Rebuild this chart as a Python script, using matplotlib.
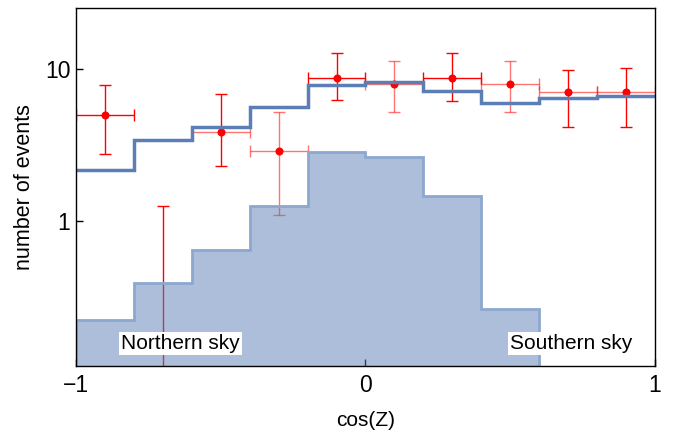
import numpy as np
import matplotlib
matplotlib.use("Agg")
import matplotlib.pyplot as plt
from matplotlib.ticker import FixedLocator, NullLocator, FixedFormatter

plt.rcParams["font.family"] = ["Liberation Sans", "DejaVu Sans"]

# bin edges in cos(Z)
bin_edges = [-1.0, -0.8, -0.6, -0.4, -0.2, 0.0, 0.2, 0.4, 0.6, 0.8, 1.0]

# expected total (step line)
total_expect = [2.17, 3.41, 4.13, 5.6, 7.9, 8.17, 7.17, 6.0, 6.41, 6.64]

# shaded component (only the first 8 bins are non-empty)
shaded_expect = [0.223, 0.393, 0.644, 1.26, 2.83, 2.62, 1.46, 0.265]

# observed points
obs_x = [-0.9, -0.5, -0.3, -0.1, 0.1, 0.3, 0.5, 0.7, 0.9]
obs_y = [4.98, 3.87, 2.9, 8.69, 7.97, 8.69, 7.97, 7.1, 7.1]
obs_lo = [2.75, 2.3, 1.09, 6.22, 5.21, 6.2, 5.21, 4.13, 4.13]
obs_hi = [7.85, 6.85, 5.2, 12.7, 11.2, 12.7, 11.3, 9.9, 10.1]

# empty bin: only an upper limit bar
empty_x = -0.7
empty_hi = 1.25

y_ticks = [1, 10]
y_tick_labels = ["1", "10"]
x_ticks = [-1, 0, 1]
x_tick_labels = ["\u22121", "0", "1"]

RED = "#ff0000"
BLUE = "#5b7fb5"

fig = plt.figure(figsize=(6.81, 4.34), dpi=100)
ax = fig.add_axes([0.1116, 0.1567, 0.8502, 0.8249])
ax.set_yscale("log")
ax.set_xlim(-1, 1)
ax.set_ylim(0.111, 25.2)

# error bars (some drawn lighter, like the reference)
v_alpha = [1.0, 1.0, 0.55, 1.0, 0.55, 1.0, 0.55, 1.0, 1.0]
h_alpha = [1.0, 0.55, 0.55, 1.0, 0.55, 1.0, 0.55, 0.55, 0.55]
for i, x in enumerate(obs_x):
    y = obs_y[i]
    ax.errorbar([x], [y], yerr=[[y - obs_lo[i]], [obs_hi[i] - y]], fmt="none",
                ecolor=RED, elinewidth=1.0, capsize=4.5, capthick=1.0,
                alpha=v_alpha[i], zorder=2)
    ax.errorbar([x], [y], xerr=0.1, fmt="none", ecolor=RED, elinewidth=1.0,
                capsize=4.5, capthick=1.0, alpha=h_alpha[i], zorder=2)

ax.vlines(empty_x, 0.05, empty_hi, color=RED, lw=1.0, zorder=2)
ax.plot([empty_x], [empty_hi], marker="_", ms=9, mew=1.0, color=RED, zorder=2)

ax.plot(obs_x, obs_y, "o", color=RED, ms=5.8, mec="none", zorder=3)

# shaded histogram over the error bars
shade_edges = bin_edges[:len(shaded_expect) + 1]
ax.stairs(shaded_expect, shade_edges, baseline=1e-3, fill=True,
          color=BLUE, alpha=0.5, lw=0, zorder=4)
ax.stairs(shaded_expect, shade_edges, baseline=1e-3, fill=False,
          color="#8da7cf", lw=2.0, zorder=4)

# total expectation
ax.stairs(total_expect, bin_edges, baseline=None, color=BLUE, lw=2.5, zorder=5)

txt_style = dict(fontsize=15, ha="center", va="center", zorder=6,
                 bbox=dict(facecolor="white", edgecolor="none", pad=1.5))
ax.text(-0.639, 0.157, "Northern sky", **txt_style)
ax.text(0.71, 0.157, "Southern sky", **txt_style)

ax.yaxis.set_major_locator(FixedLocator(y_ticks))
ax.yaxis.set_major_formatter(FixedFormatter(y_tick_labels))
ax.yaxis.set_minor_locator(NullLocator())
ax.xaxis.set_major_locator(FixedLocator(x_ticks))
ax.xaxis.set_major_formatter(FixedFormatter(x_tick_labels))
ax.tick_params(direction="in", length=5, width=1.0, labelsize=16.5)
ax.tick_params(axis="x", pad=5.5)
ax.tick_params(axis="y", pad=4)
for spine in ax.spines.values():
    spine.set_linewidth(1.0)
    spine.set_zorder(7)

ax.set_xlabel("cos(Z)", fontsize=15, labelpad=10)
ax.set_ylabel("number of events", fontsize=15.5, labelpad=7)

fig.savefig("out.png", dpi=100)
